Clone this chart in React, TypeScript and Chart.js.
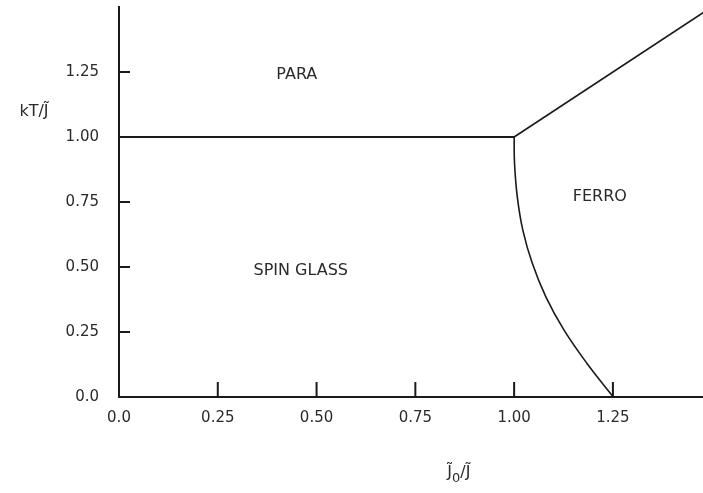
import React, { useEffect, useRef } from "react";
import { Chart, registerables } from "chart.js";

Chart.register(...registerables);

// ---- data ----
const xTicks = [0, 0.25, 0.5, 0.75, 1.0, 1.25];
const yTicks = [0, 0.25, 0.5, 0.75, 1.0, 1.25];

// para / spin-glass boundary (horizontal)
const sgParaX = [0, 1.0];
const sgParaY = [1.0, 1.0];

// para / ferro boundary
const ferroParaX = [1.0, 1.5];
const ferroParaY = [1.0, 1.5];

// spin-glass / ferro boundary
const sgFerroX = [1.0, 1.001, 1.008, 1.022, 1.046, 1.08, 1.126, 1.184, 1.251];
const sgFerroY = [1.0, 0.899, 0.77, 0.642, 0.514, 0.386, 0.258, 0.13, 0.0];

const regionNames = ["PARA", "SPIN GLASS", "FERRO"];
const regionX = [0.45, 0.46, 1.217];
const regionY = [1.24, 0.485, 0.77];

const toPts = (xs: number[], ys: number[]) => xs.map((x, i) => ({ x, y: ys[i] }));

const fmt = (v: number) => (v === 0 ? "0.0" : v.toFixed(2));

const FONT = "'DejaVu Sans', 'Liberation Sans', sans-serif";
const INK = "#1a1a1a";
const TEXT = "#2a2a2a";

const decorPlugin = {
  id: "decor",
  afterDraw(chart: any) {
    const { ctx, chartArea, scales } = chart;
    const xs = scales.x;
    const ys = scales.y;
    ctx.save();
    // inward tick marks
    ctx.strokeStyle = INK;
    ctx.lineWidth = 2;
    ctx.beginPath();
    xTicks.forEach((v) => {
      if (v === 0) return;
      const px = xs.getPixelForValue(v);
      ctx.moveTo(px, chartArea.bottom);
      ctx.lineTo(px, chartArea.bottom - 15);
    });
    yTicks.forEach((v) => {
      if (v === 0) return;
      const py = ys.getPixelForValue(v);
      ctx.moveTo(chartArea.left, py);
      ctx.lineTo(chartArea.left + 11, py);
    });
    ctx.stroke();

    // region labels
    ctx.fillStyle = TEXT;
    ctx.font = `16px ${FONT}`;
    ctx.textAlign = "center";
    ctx.textBaseline = "middle";
    regionNames.forEach((n, i) => {
      ctx.fillText(n, xs.getPixelForValue(regionX[i]), ys.getPixelForValue(regionY[i]));
    });

    // y axis title
    ctx.font = `16px ${FONT}`;
    ctx.textAlign = "center";
    ctx.fillText("kT/J\u0303", chartArea.left - 85, ys.getPixelForValue(1.098));

    // x axis title: J~0/J~
    const cx = xs.getPixelForValue(0.86);
    const cy = chartArea.bottom + 76;
    const big = `16px ${FONT}`;
    const small = `13px ${FONT}`;
    ctx.textAlign = "left";
    ctx.font = big;
    const w1 = ctx.measureText("J\u0303").width;
    const w3 = ctx.measureText("/J\u0303").width;
    ctx.font = small;
    const w2 = ctx.measureText("0").width;
    let x0 = cx - (w1 + w2 + w3) / 2;
    ctx.font = big;
    ctx.fillText("J\u0303", x0, cy);
    x0 += w1;
    ctx.font = small;
    ctx.fillText("0", x0, cy + 6);
    x0 += w2;
    ctx.font = big;
    ctx.fillText("/J\u0303", x0, cy);
    ctx.restore();
  },
};

export default function App() {
  const ref = useRef<HTMLCanvasElement | null>(null);
  useEffect(() => {
    document.body.style.margin = "0";
    document.body.style.background = "#fff";
    const canvas = ref.current!;
    const lineDs = (data: any[], width: number, tension = 0) => ({
      data,
      borderColor: INK,
      borderWidth: width,
      pointRadius: 0,
      tension,
      fill: false,
    });
    const chart = new Chart(canvas, {
      type: "scatter",
      data: {
        datasets: [
          { ...lineDs(toPts(sgParaX, sgParaY), 2), showLine: true },
          { ...lineDs(toPts(ferroParaX, ferroParaY), 1.6), showLine: true },
          { ...lineDs(toPts(sgFerroX, sgFerroY), 1.6, 0.4), showLine: true },
        ],
      },
      options: {
        animation: false,
        responsive: false,
        maintainAspectRatio: false,
        layout: { padding: { top: 7, right: 0, left: 0, bottom: 0 } },
        plugins: {
          legend: { display: false },
          tooltip: { enabled: false },
        },
        scales: {
          x: {
            type: "linear",
            min: 0,
            max: 1.478,
            afterBuildTicks: (s: any) => {
              s.ticks = xTicks.map((v) => ({ value: v }));
            },
            afterFit: (s: any) => {
              s.height = 96;
              s.paddingLeft = 0;
              s.paddingRight = 0;
            },
            grid: { display: false, drawTicks: false },
            border: { display: true, color: INK, width: 2 },
            ticks: {
              padding: 12,
              color: TEXT,
              font: { family: FONT, size: 15 },
              callback: (v: any) => fmt(Number(v)),
              maxRotation: 0,
              autoSkip: false,
            },
          },
          y: {
            type: "linear",
            min: 0,
            max: 1.5,
            afterBuildTicks: (s: any) => {
              s.ticks = yTicks.map((v) => ({ value: v }));
            },
            afterFit: (s: any) => {
              s.width = 119;
              s.paddingTop = 0;
              s.paddingBottom = 0;
            },
            grid: { display: false, drawTicks: false },
            border: { display: true, color: INK, width: 2 },
            ticks: {
              padding: 20,
              color: TEXT,
              font: { family: FONT, size: 15 },
              callback: (v: any) => fmt(Number(v)),
              autoSkip: false,
            },
          },
        },
      },
      plugins: [decorPlugin],
    });
    return () => chart.destroy();
  }, []);
  return (
    <div style={{ width: 703, height: 493, background: "#fff" }}>
      <canvas ref={ref} width={703} height={493} style={{ display: "block" }} />
    </div>
  );
}
